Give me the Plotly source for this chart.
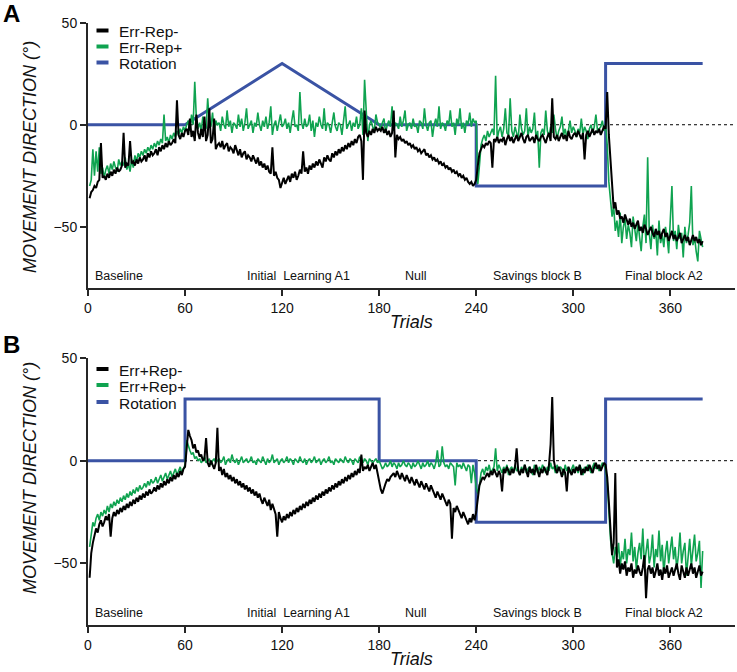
import plotly.graph_objects as go

# ---------------- data ----------------
X_TICKS = [0, 60, 120, 180, 240, 300, 360]
Y_TICKS = [-50, 0, 50]

ROT_A_X = [0, 60, 120, 180, 240, 240, 320, 320, 380]
ROT_A_Y = [0, 0, 30, 0, 0, -30, -30, 30, 30]
ROT_B_X = [0, 60, 60, 180, 180, 240, 240, 320, 320, 380]
ROT_B_Y = [0, 0, 30, 30, 0, 0, -30, -30, 30, 30]

BLOCK_LABELS = ["Baseline", "Initial  Learning A1", "Null", "Savings block B", "Final block A2"]
BLOCK_POS = [3, 130, 203, 278, 356]

ERR_REP_MINUS = [
    -36,-33,-32,-30,-31,-28,-27,-9,-26,-25,-27,-24,-26,-23,-25,-22,-24,-21,-23,-22,
    -20,-4,-21,-19,-20,-8,-19,-18,-20,-17,-19,-16,-18,-17,-15,-18,-14,-16,-13,-15,
    -14,-12,-15,-11,-13,-10,-12,-9,-11,-8,-10,-9,-7,-9,12,-5,-7,-4,-6,-3,
    -2,-5,3,-6,-3,-8,5,-4,-7,-2,-6,4,-8,-5,8,-9,-7,3,-12,-10,
    -9,-11,-8,-12,-10,-9,-13,-11,-12,-14,-10,-13,-15,-12,-16,-14,-13,-17,-15,-16,
    -18,-15,-17,-19,-16,-20,-18,-21,-19,-22,-20,-23,-24,-11,-25,-23,-26,-27,-31,-28,
    -26,-29,-27,-25,-28,-24,-26,-23,-27,-25,-22,-24,-13,-23,-21,-24,-20,-22,-19,-21,
    -18,-20,-17,-19,-21,-16,-18,-15,-17,-18,-14,-16,-13,-15,-12,-14,-11,-13,-10,-12,
    -9,-11,-8,-10,-7,-9,-6,-5,-8,-27,7,-4,-6,-3,-5,-2,-4,-1,-3,-2,
    -3,-1,-4,-2,-5,-3,-6,-4,7,-16,-5,-7,-6,-8,-7,-9,-8,-10,-9,-11,
    -10,-12,-11,-13,-12,-14,-13,-12,-15,-14,-16,-15,-17,-16,-18,-17,-19,-18,-20,-19,
    -21,-20,-22,-21,-23,-22,-24,-23,-25,-24,-26,-25,-27,-26,-28,-29,-28,-30,-29,-27,
    -20,-14,-12,-10,-11,-9,-10,-8,-9,-21,-7,-8,-6,-9,-7,-8,-6,-10,-7,-5,
    -8,-6,-9,-7,-5,-8,-6,-4,-7,-9,-6,-5,-8,-7,-6,-9,-5,-7,-8,-6,
    -5,-7,-9,-6,-4,-8,13,-6,-7,-5,-8,-6,-4,-7,-5,-8,-3,-6,-7,-5,
    -4,-6,-3,-5,-7,-4,-17,-5,-3,-6,-4,-2,-5,-3,-4,-2,-5,-3,-1,-2,
    16,-5,-19,-30,-41,-38,-44,-42,-46,-45,-48,-44,-47,-49,-46,-50,-48,-51,-49,-47,
    -52,-50,-53,-49,-51,-54,-52,-50,-53,-55,-51,-54,-52,-56,-53,-51,-55,-53,-57,-54,
    -52,-56,-54,-57,-55,-53,-58,-56,-54,-57,-55,-59,-56,-54,-57,-55,-58,-56,-59,-57,
]

ERR_REP_PLUS = [
    -30,-27,-12,-25,-13,-23,-11,-24,-21,-26,-22,-20,-24,-19,-22,-18,-21,-23,-17,-20,
    -18,-20,-16,-22,-19,-23,-17,-21,-15,-18,-14,-16,-13,-15,-12,-14,-11,-13,-10,-12,
    -9,-11,-8,-10,-7,-9,5,-8,-6,-9,-5,-7,-4,-6,-3,-5,-2,-4,-1,-3,
    0,2,-3,5,0,21,3,-2,1,-3,4,0,-2,13,1,-1,6,-4,2,0,
    1,-3,4,0,-2,7,-1,2,-4,1,0,-2,5,-1,3,-3,1,8,-2,0,
    2,-4,1,-1,6,0,-3,2,-1,4,-2,1,9,-5,0,2,-3,1,5,-1,
    0,3,-2,1,-4,2,7,-1,0,-3,16,1,-2,3,-1,0,5,-3,2,-6,
    1,-1,4,0,-2,8,-3,1,0,-4,2,6,-1,-3,1,0,-5,3,9,-2,
    0,2,-3,1,-1,4,-2,0,8,-5,22,3,-8,0,2,-1,-3,5,1,0,
    -2,1,3,-4,0,2,-1,9,-3,1,0,-2,4,-1,2,7,-3,0,1,-2,
    3,-1,0,-4,2,1,-2,8,0,-3,1,2,-6,0,3,-1,9,-2,1,0,
    -3,2,0,7,-1,1,-5,3,0,8,-2,1,-4,2,0,6,-1,3,1,2,
    -29,-20,-10,-7,-5,-8,-3,-6,-4,-2,-5,24,-7,-3,-1,-6,-2,8,-4,-5,
    13,-3,-6,-1,-4,-7,5,-2,-5,-3,8,-6,-1,-4,-2,6,-7,-3,-21,-4,
    -2,-5,7,-3,-6,-1,-4,5,-2,-7,-3,-1,4,-5,-2,-6,-3,2,-4,-1,
    -3,-6,-2,-4,3,-5,-1,-3,-7,-2,0,-4,-1,5,-3,-2,-1,2,-3,0,
    -10,-28,-38,-45,-40,-52,-47,-55,-43,-58,-50,-46,-56,-49,-53,-60,-45,-51,-57,-48,
    -55,-62,-50,-44,-58,-16,-53,-61,-49,-56,-52,-64,-47,-58,-54,-60,-50,-55,-63,-48,
    -30,-57,-52,-61,-49,-56,-53,-65,-50,-58,-54,-48,-30,-59,-55,-62,-67,-52,-57,-60,
]

ERRP_REP_MINUS = [
    -57,-45,-40,-37,-33,-35,-31,-29,-32,-30,-27,-29,-26,-37,-28,-25,-27,-24,-26,-23,
    -25,-22,-24,-21,-23,-20,-22,-19,-21,-18,-20,-17,-19,-16,-18,-15,-17,-14,-16,-15,
    -13,-15,-12,-14,-11,-13,-10,-12,-9,-11,-8,-10,-7,-9,-6,-8,-5,-7,-4,-3,
    8,15,12,10,6,8,4,5,2,3,0,1,11,-1,-3,0,-2,-4,-1,16,
    -5,-3,-7,-4,-8,-6,-9,-7,-10,-8,-11,-9,-12,-10,-13,-11,-14,-12,-15,-13,
    -16,-14,-17,-15,-18,-16,-19,-21,-18,-20,-22,-19,-24,-21,-23,-26,-37,-25,-28,-30,
    -27,-29,-26,-28,-25,-27,-24,-26,-23,-25,-22,-24,-21,-23,-20,-22,-19,-21,-18,-20,
    -17,-19,-16,-18,-15,-17,-14,-16,-13,-15,-12,-14,-11,-13,-10,-12,-9,-11,-8,-10,
    -7,-9,-6,-8,-5,-7,-4,-6,3,-5,-3,-4,-2,-5,-3,-1,-4,-2,-6,-10,
    -14,-16,-13,-11,-9,-10,-8,-7,-6,-8,-5,-7,-9,-6,-8,-10,-7,-9,-11,-8,
    -10,-12,-9,-11,-13,-10,-12,-14,-11,-13,-15,-12,-14,-16,-18,-15,-17,-19,-16,-18,
    -20,-22,-19,-21,-38,-23,-25,-22,-24,-26,-28,-25,-27,-29,-31,-28,-30,-26,-29,-25,
    -18,-12,-10,-8,-9,-7,-6,-8,-5,-7,-4,-6,-8,-5,-7,-15,-4,-6,-3,-5,
    -7,-4,-6,-3,6,-5,-7,-4,-6,-2,-5,-8,-3,-6,-4,-7,-2,-5,-8,-4,
    -6,-3,-5,-7,-2,8,31,0,-4,-6,-3,-5,-8,-4,-6,-15,-3,-5,-7,-4,
    -6,-3,-5,-2,-7,-4,-6,-3,-5,-2,-4,-6,-3,-1,-4,-2,-5,-3,-1,-2,
    -8,-20,-35,-46,-40,-6,-52,-48,-55,-50,-53,-49,-56,-52,-54,-50,-57,-53,-55,-51,
    -54,-56,-52,-46,-67,-53,-51,-55,-52,-57,-54,-50,-56,-53,-58,-52,-55,-51,-57,-54,
    -52,-56,-53,-50,-55,-58,-51,-54,-57,-52,-56,-53,-50,-55,-52,-57,-54,-51,-56,-54,
]

ERRP_REP_PLUS = [
    -42,-35,-30,-32,-28,-26,-29,-25,-27,-24,-26,-22,-25,-21,-23,-20,-22,-19,-21,-18,
    -20,-17,-19,-16,-18,-15,-17,-14,-16,-13,-15,-12,-14,-13,-11,-13,-10,-12,-9,-11,
    -10,-8,-11,-9,-7,-10,-8,-6,-9,-7,-5,-8,-6,-4,-7,-5,-3,-6,-4,-2,
    10,7,5,3,4,1,2,0,1,-1,0,2,-1,0,1,-2,0,1,-1,0,
    1,-1,0,2,-2,0,1,-1,3,0,-1,1,-2,0,2,-1,0,1,-1,0,
    2,-1,0,-2,1,0,-1,2,0,-2,1,-1,0,3,-1,0,1,-2,0,1,
    -1,0,2,-1,1,0,-2,1,0,-1,2,0,-1,1,-2,0,1,-1,0,2,
    -1,0,1,-2,0,1,-1,0,2,-1,0,-2,1,0,-1,1,0,-1,2,0,
    -1,1,0,-2,1,0,-1,2,0,-1,1,0,-2,1,0,-1,0,1,-1,0,
    -2,-4,-3,-1,-3,-2,0,-3,-1,-2,-4,-1,-3,-2,0,-2,-3,-1,-2,-4,
    -1,-3,-2,0,-2,-4,-1,-3,-2,0,-3,-1,-2,-4,-1,5,-3,-2,7,-1,
    -3,-2,-4,-1,-2,-3,-12,-1,-3,-2,-4,-1,-3,-5,-2,-3,-11,-2,-6,-13,
    -16,-12,-6,-4,-7,-3,-5,-2,-6,-4,-3,6,-5,-2,-4,-6,-3,-5,-2,-7,
    -4,-3,-6,-2,-5,-4,-7,-3,-5,-2,-6,-4,-3,-5,-7,-2,-4,-6,-3,-5,
    -2,-4,-6,-3,-5,-1,-4,-3,-6,-2,-5,-3,-4,-7,-2,-5,-3,-6,-4,-2,
    -5,-3,-6,-2,-4,-7,-3,-5,-2,-4,-6,-3,-1,-4,-2,-5,-3,-1,-2,-4,
    -10,-25,-38,-45,-50,-42,-47,-40,-52,-44,-48,-38,-50,-43,-46,-35,-49,-42,-53,-45,
    -40,-48,-33,-51,-44,-38,-50,-46,-36,-52,-43,-47,-34,-49,-41,-55,-45,-39,-50,-44,
    -37,-48,-42,-53,-46,-35,-50,-44,-40,-56,-47,-38,-51,-43,-36,-49,-45,-39,-62,-44,
]

# ---------------- style ----------------
W, H = 737, 672
FONT = "Liberation Sans, Arial, Helvetica, sans-serif"
BLACK = "#000000"
GREEN = "#0fa350"
BLUE = "#3a53a4"
AXC = "#262626"


def px(v):
    return v / W


def py(v):
    return 1 - v / H


def trials(arr):
    return list(range(1, len(arr) + 1))


fig = go.Figure()

panels = [
    ("x", "y", ROT_A_X, ROT_A_Y, ERR_REP_PLUS, ERR_REP_MINUS),
    ("x2", "y2", ROT_B_X, ROT_B_Y, ERRP_REP_PLUS, ERRP_REP_MINUS),
]
for xa, ya, rx, ry, gplus, gminus in panels:
    fig.add_trace(go.Scatter(x=rx, y=ry, mode="lines", line=dict(color=BLUE, width=3),
                             xaxis=xa, yaxis=ya, showlegend=False, hoverinfo="skip"))
    fig.add_trace(go.Scatter(x=trials(gplus), y=gplus, mode="lines",
                             line=dict(color=GREEN, width=1.6),
                             xaxis=xa, yaxis=ya, showlegend=False))
    fig.add_trace(go.Scatter(x=trials(gminus), y=gminus, mode="lines",
                             line=dict(color=BLACK, width=2),
                             xaxis=xa, yaxis=ya, showlegend=False))

X_DOM = [px(88), px(735)]
A_DOM = [py(288), py(22.7)]
B_DOM = [py(625), py(358)]

axis_common = dict(showgrid=False, zeroline=False, showline=True, linecolor=AXC,
                   linewidth=2, ticks="outside", ticklen=6, tickwidth=1.5,
                   tickcolor=AXC, automargin=False,
                   tickfont=dict(family=FONT, size=14, color="#111"))

fig.update_layout(
    template="none",
    width=W, height=H,
    margin=dict(l=0, r=0, t=0, b=0, pad=0),
    paper_bgcolor="white", plot_bgcolor="white",
    showlegend=False,
    font=dict(family=FONT, color="#111"),
    xaxis=dict(domain=X_DOM, range=[0, 400], anchor="y", tickvals=X_TICKS, **axis_common),
    yaxis=dict(domain=A_DOM, range=[-80, 50], anchor="x", tickvals=Y_TICKS, **axis_common),
    xaxis2=dict(domain=X_DOM, range=[0, 400], anchor="y2", tickvals=X_TICKS, **axis_common),
    yaxis2=dict(domain=B_DOM, range=[-80, 50], anchor="x2", tickvals=Y_TICKS, **axis_common),
)

shapes = []
annotations = []

# dotted zero lines
for xr, yr in [("x", "y"), ("x2", "y2")]:
    shapes.append(dict(type="line", xref=xr, yref=yr, x0=0, x1=400, y0=0, y1=0,
                       line=dict(color="#000", width=1, dash="dot"), layer="below"))

# block labels
for xr, yr in [("x", "y"), ("x2", "y2")]:
    for i, (lab, pos) in enumerate(zip(BLOCK_LABELS, BLOCK_POS)):
        annotations.append(dict(xref=xr, yref=yr, x=pos, y=-74, text=lab, showarrow=False,
                                xanchor="left" if i == 0 else "center", yanchor="middle",
                                font=dict(family=FONT, size=12.5, color="#111")))

# legends (drawn)
legends = [
    (["Err-Rep-", "Err-Rep+", "Rotation"], [31.5, 47.5, 63.5]),
    (["Err+Rep-", "Err+Rep+", "Rotation"], [370, 386, 403]),
]
for names, ys in legends:
    for name, col, yy in zip(names, [BLACK, GREEN, BLUE], ys):
        shapes.append(dict(type="line", xref="paper", yref="paper",
                           x0=px(96.5), x1=px(108.5), y0=py(yy - 1), y1=py(yy - 1),
                           line=dict(color=col, width=4)))
        annotations.append(dict(xref="paper", yref="paper", x=px(117), y=py(yy), text=name,
                                showarrow=False, xanchor="left", yanchor="middle",
                                font=dict(family=FONT, size=15.5, color="#111")))

# panel letters
for letter, yy in [("A", 13), ("B", 345)]:
    annotations.append(dict(xref="paper", yref="paper", x=px(1), y=py(yy), text="<b>%s</b>" % letter,
                            showarrow=False, xanchor="left", yanchor="middle",
                            font=dict(family=FONT, size=24, color="#000")))

# axis titles
for yy in [157, 478]:
    annotations.append(dict(xref="paper", yref="paper", x=px(30), y=py(yy),
                            text="<i>MOVEMENT DIRECTION (°)</i>", textangle=-90,
                            showarrow=False, xanchor="center", yanchor="middle",
                            font=dict(family=FONT, size=18, color="#111")))
for yy in [322, 659]:
    annotations.append(dict(xref="paper", yref="paper", x=px(411), y=py(yy),
                            text="<i>Trials</i>", showarrow=False,
                            xanchor="center", yanchor="middle",
                            font=dict(family=FONT, size=18, color="#111")))

fig.update_layout(shapes=shapes, annotations=annotations)
fig.write_html("out.html", config={"displayModeBar": False},
               post_script="document.body.style.margin='0px';document.body.style.overflow='hidden';")
